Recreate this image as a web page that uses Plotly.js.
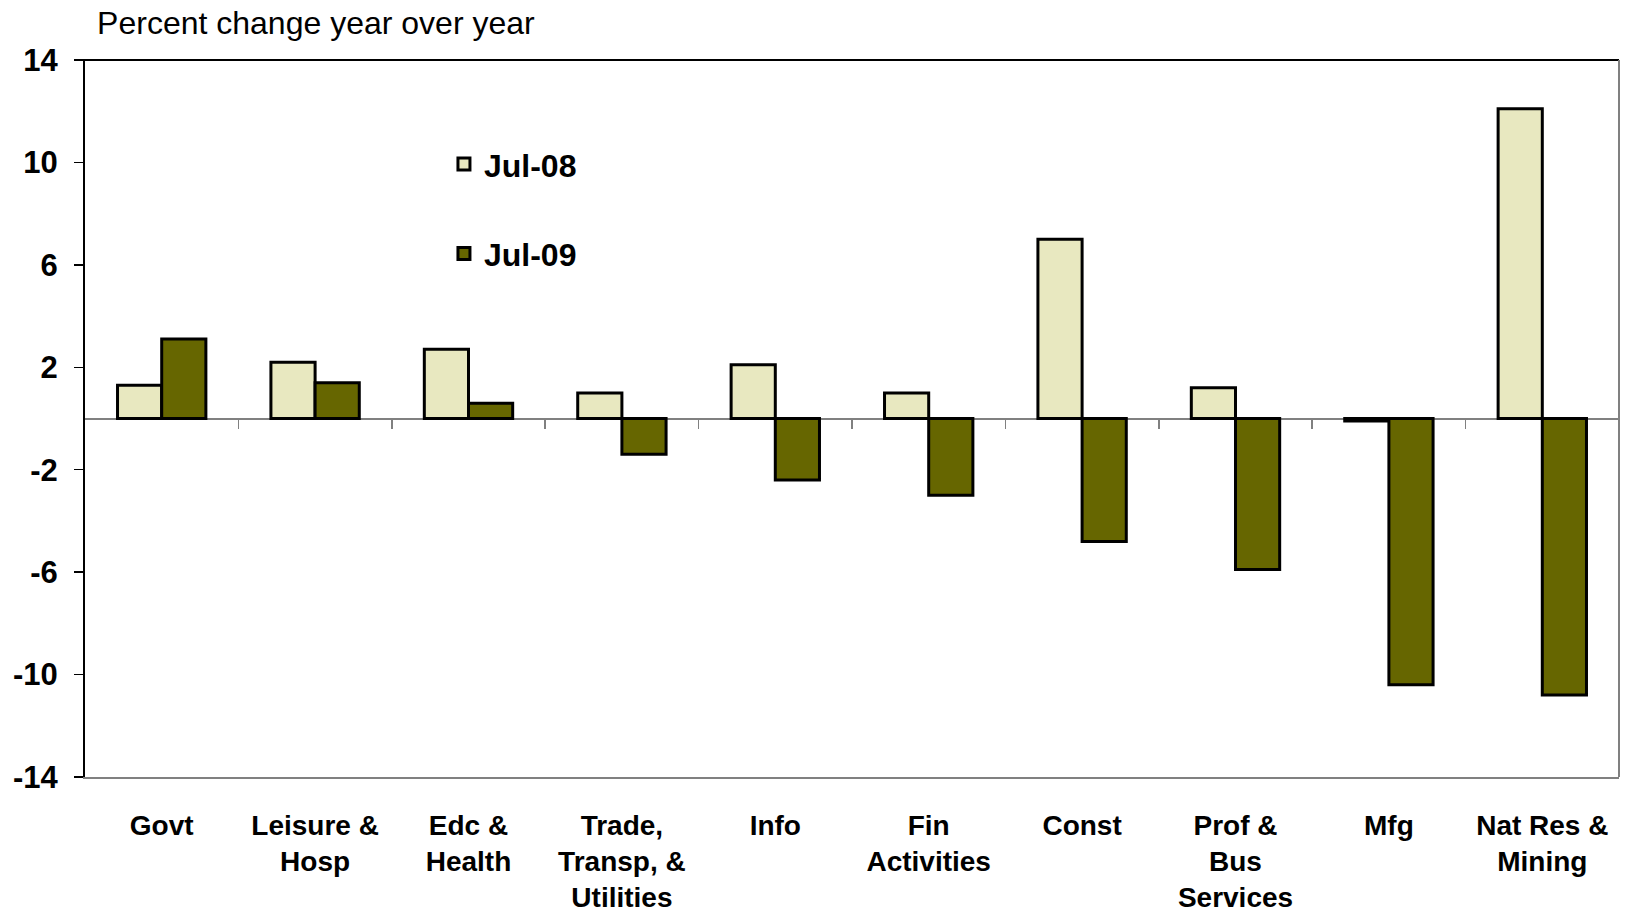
<!DOCTYPE html>
<html>
<head>
<meta charset="utf-8">
<script src="https://cdn.plot.ly/plotly-3.0.1.min.js"></script>
<style>
html,body{margin:0;padding:0;background:#fff;}
#chart{width:1632px;height:912px;}
</style>
</head>
<body>
<div id="chart"></div>
<script>
const categories = ["Govt", "Leisure &<br>Hosp", "Edc &<br>Health", "Trade,<br>Transp, &<br>Utilities", "Info", "Fin<br>Activities", "Const", "Prof &<br>Bus<br>Services", "Mfg", "Nat Res &<br>Mining"];
const jul08 = [1.3, 2.2, 2.7, 1.0, 2.1, 1.0, 7.0, 1.2, -0.1, 12.1];
const jul09 = [3.1, 1.4, 0.6, -1.4, -2.4, -3.0, -4.8, -5.9, -10.4, -10.8];
const seriesNames = ["Jul-08", "Jul-09"];
const yTicks = [-14, -10, -6, -2, 2, 6, 10, 14];
const yTickText = ["-14", "-10", "-6", "-2", "2", "6", "10", "14"];
const boundaries = categories.slice(1).map((c, i) => i + 0.5);

const FONT = "Liberation Sans, Arial, sans-serif";

const traces = [
  {type: "bar", name: seriesNames[0], x: categories, y: jul08, legendgroup: "a",
   marker: {color: "#E8E8C0", line: {color: "#000", width: 3}}},
  {type: "bar", name: seriesNames[1], x: categories, y: jul09, legendgroup: "b",
   marker: {color: "#666600", line: {color: "#000", width: 3}}},
  // carrier for the category-boundary tick marks on the zero line
  {type: "scatter", mode: "markers", x: boundaries, y: boundaries.map(() => 0),
   xaxis: "x2", yaxis: "y", marker: {opacity: 0}, showlegend: false, hoverinfo: "skip"}
];

const layout = {
  width: 1632, height: 912,
  margin: {l: 85, r: 13, t: 60, b: 135},
  paper_bgcolor: "#fff", plot_bgcolor: "#fff",
  barmode: "group", bargap: 0.424, bargroupgap: 0,
  showlegend: true,
  title: {text: "Percent change year over year", xref: "container", yref: "container",
          x: 0.0595, xanchor: "left", y: 0.975, yanchor: "middle",
          font: {family: FONT, size: 32, color: "#000"}},
  legend: {x: 0.2340, xanchor: "left", y: 0.893, yanchor: "top",
           traceorder: "grouped", tracegroupgap: 45,
           bgcolor: "rgba(0,0,0,0)", borderwidth: 0,
           font: {family: FONT, size: 32, color: "#000", weight: 700}},
  xaxis: {type: "category", showgrid: false, zeroline: false,
          showline: true, linecolor: "#808080", linewidth: 2,
          ticks: "", ticklabelstandoff: 22,
          tickfont: {family: FONT, size: 28, color: "#000", weight: 700}},
  xaxis2: {overlaying: "x", anchor: "free", position: 0.5, range: [-0.5, 9.5],
           showgrid: false, zeroline: false, showline: false, showticklabels: false,
           tickmode: "array", tickvals: boundaries, ticks: "outside",
           ticklen: 9, tickwidth: 1.5, tickcolor: "#808080"},
  yaxis: {range: [-14, 14], tickmode: "array", tickvals: yTicks, ticktext: yTickText,
          showgrid: false, zeroline: true, zerolinecolor: "#808080", zerolinewidth: 2,
          showline: true, linecolor: "#000", linewidth: 2,
          ticks: "outside", ticklen: 9, tickwidth: 1.5, tickcolor: "#000",
          ticklabelstandoff: 10,
          tickfont: {family: FONT, size: 31, color: "#000", weight: 700}},
  shapes: [
    {type: "line", xref: "paper", yref: "paper", x0: -0.006, x1: 1, y0: 1, y1: 1,
     line: {color: "#000", width: 2}},
    {type: "line", xref: "paper", yref: "paper", x0: 1, x1: 1, y0: 0, y1: 1,
     line: {color: "#808080", width: 2}}
  ]
};

Plotly.newPlot("chart", traces, layout, {displayModeBar: false, staticPlot: true});
</script>
</body>
</html>
